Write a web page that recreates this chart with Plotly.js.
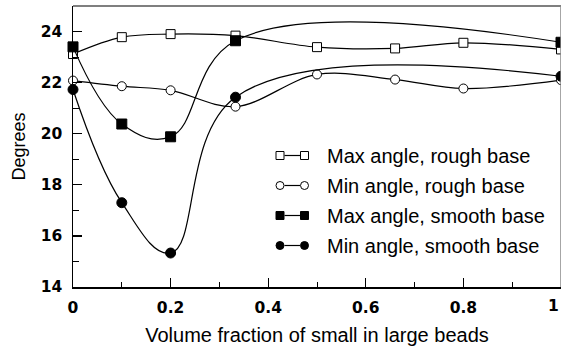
<!DOCTYPE html>
<html>
<head>
<meta charset="utf-8">
<script src="https://cdn.plot.ly/plotly-3.0.1.min.js"></script>
<style>html,body{margin:0;padding:0;background:#fff;}#chart{width:561px;height:349px;}</style>
</head>
<body>
<div id="chart"></div>
<script>
// ---- data ----
const xRough = [0, 0.1, 0.2, 0.333, 0.5, 0.66, 0.8, 1];
const maxRough = [23.12, 23.78, 23.9, 23.84, 23.39, 23.34, 23.56, 23.3];
const minRough = [22.08, 21.86, 21.7, 21.06, 22.32, 22.12, 21.77, 22.1];
const xSmooth = [0, 0.1, 0.2, 0.333, 1];
const maxSmooth = [23.4, 20.38, 19.88, 23.64, 23.58];
const minSmooth = [21.73, 17.3, 15.33, 21.43, 22.25];
const seriesNames = ["Max angle, rough base", "Min angle, rough base", "Max angle, smooth base", "Min angle, smooth base"];
const xTickVals = [0, 0.2, 0.4, 0.6, 0.8, 1];
const xTickText = ["0", "0.2", "0.4", "0.6", "0.8", "1"];
const yTickVals = [14, 16, 18, 20, 22, 24];

// ---- layout geometry (pixels) ----
const W = 561, H = 349, L = 73, R = 0, T = 6, B = 62;
const pw = W - L - R, ph = H - T - B;
const px = v => (v - L) / pw;
const py = v => (H - B - v) / ph;

function trace(x, y, name, symbol, fill, size, smoothing) {
  return {
    x: x, y: y, name: name, type: 'scatter', mode: 'lines+markers',
    line: {shape: 'spline', smoothing: smoothing, color: '#000', width: 1.2},
    marker: {symbol: symbol, size: size, color: fill, line: {color: '#000', width: 1}},
    cliponaxis: false, showlegend: false
  };
}

const data = [
  trace(xRough, maxRough, seriesNames[0], 'square', '#fff', 9, 1),
  trace(xRough, minRough, seriesNames[1], 'circle', '#fff', 9, 1),
  trace(xSmooth, maxSmooth, seriesNames[2], 'square', '#000', 10, 1.15),
  trace(xSmooth, minSmooth, seriesNames[3], 'circle', '#000', 10, 1.15)
];

const tickFont = {family: 'DejaVu Sans', size: 15.5, color: '#000', weight: 'bold'};

// custom legend (symbol - line - symbol, then text)
const rowsY = [155.5, 185.5, 215.5, 245.5];
const symTypes = ['rect', 'circle', 'rect', 'circle'];
const symFill = ['#fff', '#fff', '#000', '#000'];
const shapes = [];
const annotations = [];
const s = 4; // half size of legend symbol in px
rowsY.forEach((yc, i) => {
  [280, 304.5].forEach(xc => {
    shapes.push({type: symTypes[i], xref: 'paper', yref: 'paper',
      x0: px(xc - s), x1: px(xc + s), y0: py(yc + s), y1: py(yc - s),
      fillcolor: symFill[i], line: {color: '#000', width: 1}});
  });
  shapes.push({type: 'line', xref: 'paper', yref: 'paper',
    x0: px(284.5), x1: px(300), y0: py(yc), y1: py(yc), line: {color: '#000', width: 1.2}});
  annotations.push({xref: 'paper', yref: 'paper', x: px(325), y: py(yc + 0.5), xanchor: 'left', yanchor: 'middle',
    text: seriesNames[i], showarrow: false, font: {family: 'Liberation Sans', size: 20, color: '#000'}});
});
// last x tick label, kept inside the picture
const lastIdx = xTickVals.length - 1;
annotations.push({xref: 'x', yref: 'paper', x: xTickVals[lastIdx], y: py(306), xanchor: 'right', yanchor: 'middle',
  text: xTickText[lastIdx], showarrow: false, font: tickFont});
// frame lines
shapes.push({type: 'line', xref: 'paper', yref: 'paper', x0: 0, x1: 1, y0: 1, y1: 1, line: {color: '#555', width: 1.5}});
shapes.push({type: 'line', xref: 'paper', yref: 'paper', x0: 1, x1: 1, y0: 0, y1: 1, line: {color: '#888', width: 1.5}});

const layout = {
  width: W, height: H,
  margin: {l: L, r: R, t: T, b: B, pad: 0},
  paper_bgcolor: '#fff', plot_bgcolor: '#fff',
  showlegend: false,
  xaxis: {
    range: [0, 1], tickvals: xTickVals.slice(0, lastIdx), ticktext: xTickText.slice(0, lastIdx),
    ticks: 'inside', ticklen: 9, tickwidth: 1.2, tickcolor: '#000',
    minor: {dtick: 0.1, tick0: 0, ticks: 'inside', ticklen: 5, tickwidth: 1, tickcolor: '#000', showgrid: false},
    showline: true, linecolor: '#000', linewidth: 1.5, showgrid: false, zeroline: false,
    tickfont: tickFont,
    ticklabelstandoff: 6,
    title: {text: 'Volume fraction of small in large beads', standoff: 12,
      font: {family: 'Liberation Sans', size: 20, color: '#000'}}
  },
  yaxis: {
    range: [14, 25], tickvals: yTickVals,
    ticks: 'inside', ticklen: 9, tickwidth: 1.2, tickcolor: '#000',
    minor: {dtick: 1, tick0: 14, ticks: 'inside', ticklen: 6, tickwidth: 1, tickcolor: '#000', showgrid: false},
    showline: true, linecolor: '#000', linewidth: 1.5, showgrid: false, zeroline: false,
    tickfont: tickFont,
    ticklabelstandoff: 6,
    title: {text: 'Degrees', standoff: 10,
      font: {family: 'Liberation Sans', size: 18, color: '#000'}}
  },
  shapes: shapes,
  annotations: annotations
};

Plotly.newPlot('chart', data, layout, {displayModeBar: false, staticPlot: true});
</script>
</body>
</html>
